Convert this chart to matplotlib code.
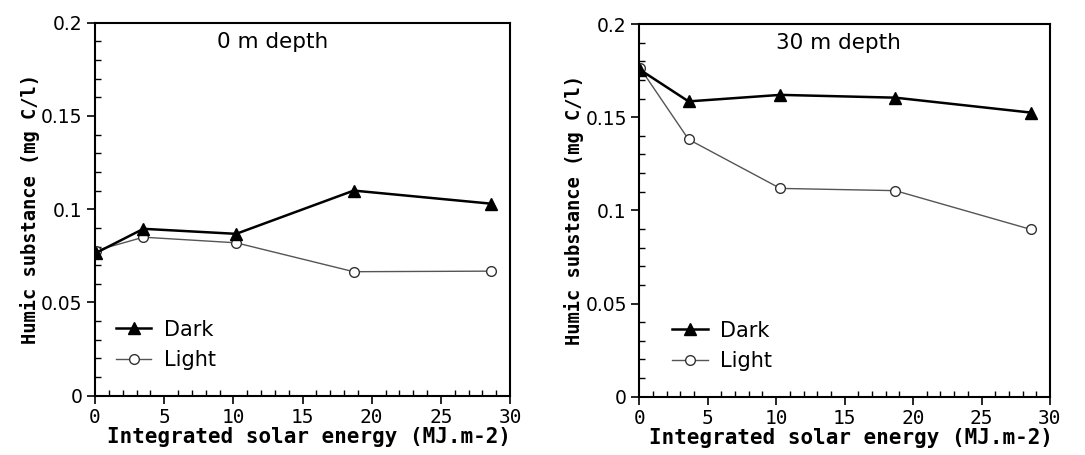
import matplotlib
matplotlib.use("Agg")
import matplotlib.pyplot as plt
from matplotlib.ticker import MultipleLocator, FixedLocator

# Data
titles = ["0 m depth", "30 m depth"]
x_left = [0.05, 3.5, 10.2, 18.7, 28.6]
dark_left = [0.0765, 0.0895, 0.0868, 0.1100, 0.1030]
light_left = [0.0778, 0.0850, 0.0820, 0.0665, 0.0668]
x_right = [0.05, 3.6, 10.3, 18.7, 28.6]
dark_right = [0.1755, 0.1585, 0.1620, 0.1605, 0.1525]
light_right = [0.1765, 0.1381, 0.1118, 0.1106, 0.0898]
yticks = [0, 0.05, 0.1, 0.15, 0.2]
ytick_labels = ["0", "0.05", "0.1", "0.15", "0.2"]
xticks = [0, 5, 10, 15, 20, 25, 30]
series_names = ["Dark", "Light"]
xlabel = "Integrated solar energy (MJ.m-2)"
ylabel = "Humic substance (mg C/l)"

fig = plt.figure(figsize=(10.85, 4.55), dpi=100)
positions = [[0.0876, 0.1303, 0.3825, 0.8197], [0.5892, 0.1281, 0.3785, 0.819]]
panels = [(x_left, dark_left, light_left), (x_right, dark_right, light_right)]
title_x = [0.427, 0.484]
legend_x = [0.02, 0.05]

for i, (pos, (xs, d, l)) in enumerate(zip(positions, panels)):
    ax = fig.add_axes(pos)
    ax.plot(xs, l, color="#555555", lw=1.0, marker="o", ms=7, mfc="white",
            mec="#333333", mew=1.0, label=series_names[1], zorder=2)
    ax.plot(xs, d, color="black", lw=1.8, marker="^", ms=8.5, mfc="black",
            mec="black", label=series_names[0], zorder=3)
    ax.set_xlim(0, 30)
    ax.set_ylim(0, 0.2)
    ax.set_xticks(xticks)
    ax.set_xticklabels([str(t) for t in xticks], fontsize=14, family="DejaVu Sans Mono")
    ax.yaxis.set_major_locator(FixedLocator(yticks))
    ax.set_yticklabels(ytick_labels, fontsize=13.5, family="DejaVu Sans")
    ax.xaxis.set_minor_locator(MultipleLocator(1))
    ax.yaxis.set_minor_locator(MultipleLocator(0.01))
    ax.tick_params(which="major", direction="out", length=6, width=1.2, pad=3)
    ax.tick_params(which="minor", direction="in", length=4, width=1.0)
    for s in ax.spines.values():
        s.set_linewidth(1.5)
    ax.set_xlabel(xlabel, fontsize=15, fontweight="bold", family="DejaVu Sans Mono", labelpad=0)
    ax.xaxis.set_label_coords(0.515, -0.085)
    ax.set_ylabel(ylabel, fontsize=13.5, fontweight="bold", family="DejaVu Sans Mono", labelpad=1)
    ax.text(title_x[i], 0.975, titles[i], transform=ax.transAxes, ha="center", va="top",
            fontsize=15.5)
    h, lab = ax.get_legend_handles_labels()
    ax.legend(h[::-1], lab[::-1], loc="lower left", bbox_to_anchor=(legend_x[i], 0.035),
              frameon=False, fontsize=15, handlelength=1.7, handletextpad=0.6,
              labelspacing=0.5, borderaxespad=0.2)

fig.savefig("out.png", dpi=100)
